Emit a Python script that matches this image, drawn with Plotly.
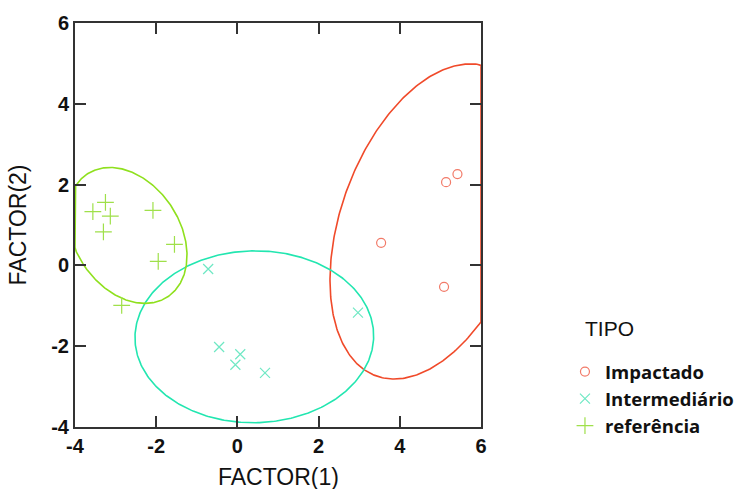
import numpy as np
import plotly.graph_objects as go

# ---- data ----
imp_x = [5.42, 5.14, 3.54, 5.09]
imp_y = [2.26, 2.06, 0.56, -0.53]
int_x = [-0.72, -0.45, 0.07, -0.05, 0.68, 2.97]
int_y = [-0.09, -2.02, -2.20, -2.46, -2.66, -1.17]
ref_x = [-3.56, -3.25, -3.13, -3.30, -2.08, -1.55, -1.95, -2.85]
ref_y = [1.33, 1.56, 1.22, 0.83, 1.36, 0.52, 0.10, -0.99]

groups = ["Impactado", "Intermediário", "referência"]
xs = [imp_x, int_x, ref_x]
ys = [imp_y, int_y, ref_y]
symbols = ["circle-open", "x-thin-open", "cross-thin-open"]
marker_sizes = [9, 10, 12]
marker_colors = ["#f27a68", "#6fe8c4", "#9fe04a"]
line_colors = ["#f04a2a", "#22e6b0", "#8fe01e"]

x_range = [-4, 6]
y_range = [-4, 6]
x_ticks = [-4, -2, 0, 2, 4, 6]
y_ticks = [-4, -2, 0, 2, 4, 6]
P = 0.70  # ellipse coverage


def ellipse(x, y, p=P, npts=400):
    x = np.asarray(x, float)
    y = np.asarray(y, float)
    n = len(x)
    m = n - 2
    fq = (m / 2.0) * ((1 - p) ** (-2.0 / m) - 1)  # F(2, m) quantile
    k2 = 2 * (n - 1) * (n + 1) / (n * (n - 2)) * fq
    cov = np.cov(np.vstack([x, y]))
    vals, vecs = np.linalg.eigh(cov)
    t = np.linspace(0, 2 * np.pi, npts)
    circ = np.vstack([np.cos(t), np.sin(t)])
    pts = vecs @ (np.sqrt(vals * k2)[:, None] * circ)
    ex = np.clip(pts[0] + x.mean(), *x_range)
    ey = np.clip(pts[1] + y.mean(), *y_range)
    return ex, ey


fig = go.Figure()
for g, x, y, lc in zip(groups, xs, ys, line_colors):
    ex, ey = ellipse(x, y)
    fig.add_trace(go.Scatter(x=ex, y=ey, mode="lines", line=dict(color=lc, width=1.6),
                             showlegend=False, hoverinfo="skip"))
for g, x, y, s, ms, mc in zip(groups, xs, ys, symbols, marker_sizes, marker_colors):
    fig.add_trace(go.Scatter(x=x, y=y, mode="markers", name=g,
                             marker=dict(symbol=s, size=ms, color=mc,
                                         line=dict(width=1.2, color=mc))))

axis_common = dict(showgrid=False, zeroline=False, showline=True, linecolor="#333333",
                   linewidth=2, mirror="ticks", ticks="inside", ticklen=11, tickwidth=2,
                   tickcolor="#333333", automargin=False,
                   tickfont=dict(family="Liberation Sans", size=20, color="#111111"),
                   title_font=dict(family="Liberation Sans", size=23, color="#111111"))

fig.update_xaxes(range=x_range, tickvals=x_ticks, ticktext=["<b>%d</b>" % v for v in x_ticks],
                 **axis_common)
fig.update_yaxes(range=y_range, tickvals=y_ticks, ticktext=["<b>%d</b>" % v for v in y_ticks],
                 title_text="FACTOR(2)", title_standoff=18, **axis_common)

fig.add_annotation(text="FACTOR(1)", xref="paper", yref="paper", x=0.5, y=-0.124,
                   xanchor="center", yanchor="middle", showarrow=False,
                   font=dict(family="Liberation Sans", size=23, color="#111111"))
fig.add_annotation(text="TIPO", xref="paper", yref="paper", x=1.251, y=0.245,
                   xanchor="left", yanchor="middle", showarrow=False,
                   font=dict(family="Liberation Sans", size=21, color="#111111"))

fig.update_layout(
    template="none",
    width=739, height=489,
    margin=dict(l=75, r=258, t=23, b=62),
    plot_bgcolor="white", paper_bgcolor="white",
    legend=dict(xref="container", yref="container", x=0.7645, y=0.2781,
                xanchor="left", yanchor="top",
                font=dict(family="Open Sans", size=18.5, color="#111111", weight="bold"),
                itemwidth=30, tracegroupgap=0, bgcolor="rgba(0,0,0,0)"),
)

fig.write_html("out.html", config={"displayModeBar": False},
               post_script="document.body.style.margin='0px';document.body.style.overflow='hidden';")
